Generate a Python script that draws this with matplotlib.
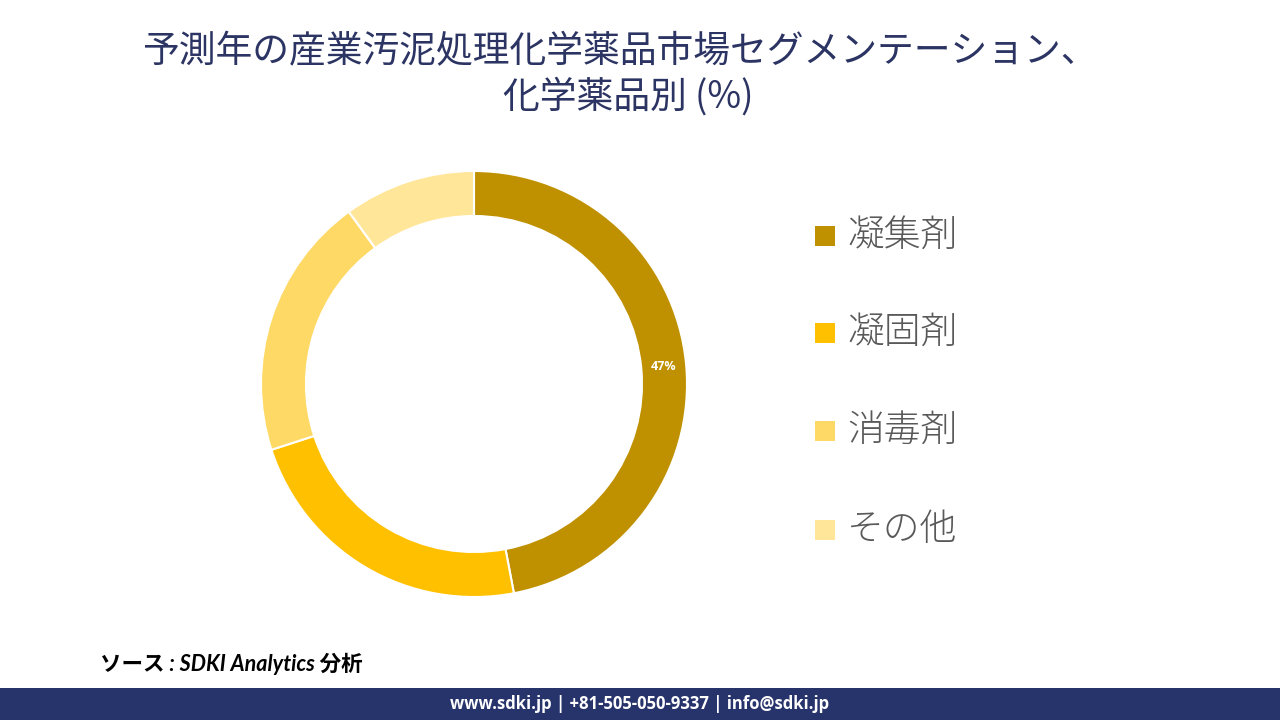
import matplotlib
matplotlib.use("Agg")
import matplotlib.pyplot as plt
from matplotlib.patches import Rectangle
import numpy as np

categories = ["凝集剤", "凝固剤", "消毒剤", "その他"]
values = [47, 23, 20, 10]
colors = ["#BF9000", "#FFC000", "#FFD966", "#FFE699"]
title_lines = ["予測年の産業汚泥処理化学薬品市場セグメンテーション、", "化学薬品別 (%)"]
source_text = "ソース : SDKI Analytics 分析"
footer_text = "www.sdki.jp | +81-505-050-9337 | info@sdki.jp"

plt.rcParams['font.family'] = ['Noto Sans CJK JP', 'DejaVu Sans']

W, H = 1280, 720
fig = plt.figure(figsize=(12.8, 7.2), dpi=100)
fig.patch.set_facecolor("white")

# donut
cx, cy, R = 474, 384, 213
ax = fig.add_axes([(cx - R) / W, 1 - (cy + R) / H, 2 * R / W, 2 * R / H])
width = 45 / 213
wedges, _ = ax.pie(values, colors=colors, startangle=90, counterclock=False,
                   radius=1, wedgeprops=dict(width=width, edgecolor="white", linewidth=1.5))
ax.set_xlim(-1, 1)
ax.set_ylim(-1, 1)
ax.set_aspect("equal")
ax.axis("off")

# label for first wedge
mid = 90 - values[0] / sum(values) * 360 / 2
rmid = 1 - width / 2
ax.text(rmid * np.cos(np.radians(mid)), rmid * np.sin(np.radians(mid)),
        f"{values[0]}%", ha="center", va="center", color="white",
        fontsize=9, fontweight="bold", family=["Open Sans", "DejaVu Sans"])

# title
tcol = "#2B3462"
fig.text(620 / W, 1 - 52 / H, title_lines[0], ha="center", va="center",
         fontsize=26.5, color=tcol)
fig.text(628 / W, 1 - 97 / H, title_lines[1], ha="center", va="center",
         fontsize=26.5, color=tcol)

# legend
ys = [236, 333, 431, 530]
for cat, col, y in zip(categories, colors, ys):
    fig.patches.append(Rectangle((815 / W, 1 - (y + 10) / H), 20 / W, 20 / H,
                                 transform=fig.transFigure, facecolor=col,
                                 edgecolor="none"))
    fig.text(847 / W, 1 - y / H, cat, ha="left", va="center", fontsize=26.5,
             fontweight="light", color="#595959")

# source
fig.text(100 / W, 1 - 664 / H, source_text, ha="left", va="center",
         fontsize=15.5, fontstyle="italic", fontweight="bold",
         family=["Lato", "Noto Sans CJK JP"], color="black")

# footer bar
fig.patches.append(Rectangle((0, 0), 1, 32 / H, transform=fig.transFigure,
                             facecolor="#27336B", edgecolor="none"))
fig.text(640 / W, 16 / H, footer_text, ha="center", va="center", fontsize=12,
         fontweight="bold", color="white", family=["Open Sans", "DejaVu Sans"])

fig.savefig("out.png", dpi=100)
